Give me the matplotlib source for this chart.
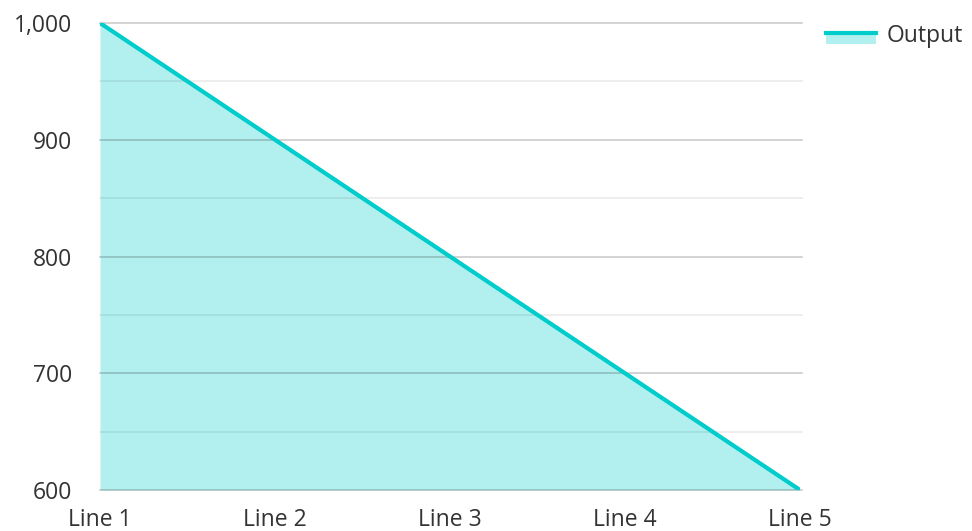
import matplotlib
matplotlib.use("Agg")
import matplotlib.pyplot as plt
from matplotlib.lines import Line2D
from matplotlib.patches import Patch, Rectangle
from matplotlib.legend_handler import HandlerBase

categories = ["Line 1", "Line 2", "Line 3", "Line 4", "Line 5"]
output_values = [1000, 900, 800, 700, 600]
y_major_ticks = [600, 700, 800, 900, 1000]
y_minor_ticks = [650, 750, 850, 950]
y_tick_labels = ["600", "700", "800", "900", "1,000"]

plt.rcParams['font.family'] = ['Open Sans', 'DejaVu Sans']

LINE_C = "#00CCCC"
FILL_C = "#B2EFEF"
TEXT_C = "#333333"

fig = plt.figure(figsize=(9.72, 5.31), dpi=100)
ax = fig.add_axes([100/972, 1-490/531, 700/972, (490-23)/531])

x = list(range(len(categories)))
ax.fill_between(x, output_values, 600, color=FILL_C, lw=0, zorder=1)

for v in y_major_ticks:
    ax.axhline(v, xmin=0, xmax=702/700, color=(0, 0, 0, 0.2), lw=1.2, zorder=2, clip_on=False)
for v in y_minor_ticks:
    ax.axhline(v, xmin=0, xmax=702/700, color=(0, 0, 0, 0.08), lw=1.2, zorder=2, clip_on=False)

ax.plot(x, output_values, color=LINE_C, lw=3, zorder=3, solid_capstyle='round')

ax.set_xlim(0, len(categories)-1)
ax.set_ylim(600, 1000)
ax.set_yticks(y_major_ticks)
ax.set_yticklabels(y_tick_labels)
ax.set_xticks(x)
ax.set_xticklabels(categories)

for s in ax.spines.values():
    s.set_visible(False)
ax.tick_params(axis='both', which='both', length=0, labelsize=16.5, colors=TEXT_C)
ax.tick_params(axis='y', pad=20)
ax.tick_params(axis='x', pad=13)

class Handler(HandlerBase):
    def create_artists(self, legend, orig_handle, xdescent, ydescent, width, height, fontsize, trans):
        x0, y0 = -xdescent, -ydescent
        r = Rectangle((x0, y0), width, height*0.5, facecolor=FILL_C, lw=0, transform=trans)
        l = Line2D([x0, x0+width], [y0+height*0.57]*2, color=LINE_C, lw=3, transform=trans)
        return [r, l]

h = Patch()
leg = fig.legend([h], ["Output"], handler_map={Patch: Handler()}, loc='center left',
                 bbox_to_anchor=(826/972, 1-36/531), frameon=False, fontsize=16.5,
                 handlelength=2.18, handleheight=1.0, handletextpad=0.48, borderaxespad=0, borderpad=0)
for t in leg.get_texts():
    t.set_color(TEXT_C)

fig.savefig("out.png", dpi=100)
